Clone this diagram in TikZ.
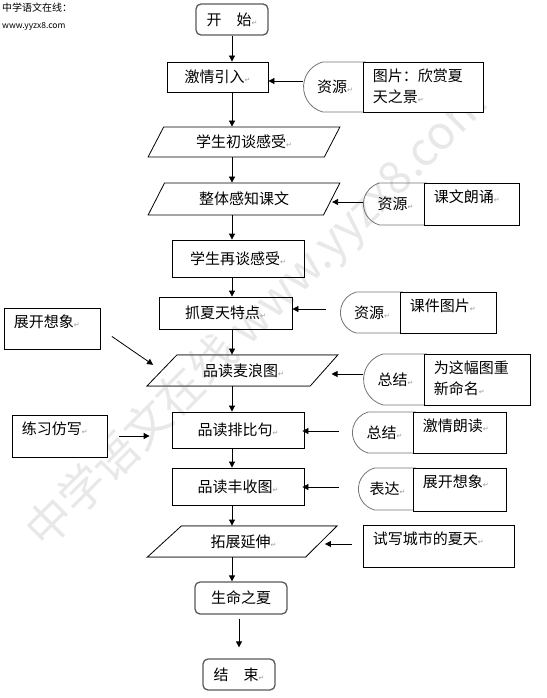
\documentclass[tikz,border=0pt]{standalone}
\usepackage{fontspec}
\setmainfont{Noto Sans CJK SC}
\newfontfamily\markfont{DejaVu Sans}
\usetikzlibrary{arrows.meta,shapes.geometric,shapes.misc}
\newcommand{\pmark}{{\markfont\fontsize{7}{7}\selectfont\color{black!40}↵}}

\begin{document}
\begin{tikzpicture}[
			x=1pt, y=-1pt,
			font=\fontsize{15}{21}\selectfont,
			arr/.style={-{Triangle[length=6pt,width=6pt]}, line width=0.8pt},
			proc/.style={draw, rectangle, line width=0.8pt, inner sep=0pt},
			term/.style={draw=black!65, line width=1.3pt, rounded corners=5pt, inner sep=0pt},
			io/.style={draw, trapezium, trapezium stretches=true, line width=0.8pt, inner sep=0pt},
			src/.style={draw=black!55, line width=0.8pt, rounded rectangle, rounded rectangle right arc=none, rounded rectangle arc length=150, inner sep=0pt},
			note/.style={draw, rectangle, fill=white, line width=0.8pt, inner sep=0pt},
			notetext/.style={anchor=north west, inner xsep=10pt, inner ysep=7pt, align=left},
			grayedge/.style={draw=black!50, line width=1.6pt},
			watermark/.style={text=black!9, font=\fontsize{46}{46}\selectfont}
			]
			
			\useasboundingbox (0,0) rectangle (546,698);
			
			% Watermark and site header
			\node[watermark, rotate=45] (wm) at (258,318) {中学语文在线 www.yyzx8.com};
			\node[anchor=north west, inner sep=0pt, font=\fontsize{10}{10}\selectfont] (site) at (2,3) {中学语文在线：};
			\node[anchor=north west, inner sep=0pt, font=\fontsize{8.5}{8.5}\selectfont] (url) at (2,22) {www.yyzx8.com};
			
			% Main column
			\coordinate (axis) at (232,0);
			\node[term, minimum width=72pt, minimum height=31pt] (start) at (232,19.5) {开　始\pmark};
			\node[proc, minimum width=101pt, minimum height=30pt] (intro) at (217.5,77) {激情引入\pmark};
			\node[io, trapezium left angle=56.3, trapezium right angle=123.7, minimum width=192pt, minimum height=30pt] (talk1) at (244,142) {学生初谈感受\pmark};
			\node[io, trapezium left angle=56.3, trapezium right angle=123.7, minimum width=192pt, minimum height=32pt] (whole) at (244,199) {整体感知课文};
			\node[proc, minimum width=132pt, minimum height=37pt] (talk2) at (238,258.5) {学生再谈感受\pmark};
			\node[proc, minimum width=133pt, minimum height=32pt] (catch) at (225.5,313) {抓夏天特点\pmark};
			\node[io, trapezium left angle=37.8, trapezium right angle=140, minimum width=191pt, minimum height=31pt] (wheat) at (243.5,370.5) {品读麦浪图\pmark};
			\node[proc, minimum width=132pt, minimum height=36pt] (para) at (238,430) {品读排比句\pmark};
			\node[proc, minimum width=132pt, minimum height=37pt] (harv) at (238,486.5) {品读丰收图\pmark};
			\node[io, trapezium left angle=37.8, trapezium right angle=140, minimum width=191pt, minimum height=31pt] (ext) at (243.5,541.5) {拓展延伸\pmark};
			\node[term, minimum width=92pt, minimum height=32pt] (life) at (241,598) {生命之夏};
			\node[term, minimum width=72pt, minimum height=31pt] (end) at (239,674.5) {结　束\pmark};
			
			% Gray top and bottom edges
			\draw[grayedge] (wheat.top left corner) -- (wheat.top right corner);
			\draw[grayedge] (wheat.bottom left corner) -- (wheat.bottom right corner);
			\draw[grayedge] (ext.top left corner) -- (ext.top right corner);
			\draw[grayedge] (ext.bottom left corner) -- (ext.bottom right corner);
			
			% Resources on the right
			\node[src, minimum width=62pt, minimum height=50pt] (r1d) at (335,87) {资源\pmark};
			\node[note, minimum width=120pt, minimum height=50pt] (r1b) at (423,87) {};
			\node[notetext] (r1t) at (r1b.north west) {图片：欣赏夏\\天之景\pmark};
			
			\node[src, minimum width=63pt, minimum height=42pt] (r2d) at (395.5,204) {资源\pmark};
			\node[note, minimum width=95pt, minimum height=42pt] (r2b) at (471.5,204) {};
			\node[notetext] (r2t) at (r2b.north west) {课文朗诵\pmark};
			
			\node[src, minimum width=62pt, minimum height=41pt] (r3d) at (372,312.5) {资源\pmark};
			\node[note, minimum width=96pt, minimum height=41pt] (r3b) at (448,312.5) {};
			\node[notetext] (r3t) at (r3b.north west) {课件图片\pmark};
			
			\node[src, minimum width=63pt, minimum height=51pt] (r4d) at (395.5,379.5) {总结\pmark};
			\node[note, minimum width=106pt, minimum height=51pt] (r4b) at (477,379.5) {};
			\node[notetext] (r4t) at (r4b.north west) {为这幅图重\\新命名\pmark};
			
			\node[src, minimum width=63pt, minimum height=41pt] (r5d) at (384.5,432.5) {总结\pmark};
			\node[note, minimum width=93pt, minimum height=41pt] (r5b) at (459.5,432.5) {};
			\node[notetext] (r5t) at (r5b.north west) {激情朗读\pmark};
			
			\node[src, minimum width=57pt, minimum height=42pt] (r6d) at (387.5,489) {表达\pmark};
			\node[note, minimum width=93pt, minimum height=43pt] (r6b) at (459.5,489.5) {};
			\node[notetext] (r6t) at (r6b.north west) {展开想象\pmark};
			
			\node[note, minimum width=151pt, minimum height=42pt] (city) at (438.5,546) {};
			\node[notetext] (cityt) at (city.north west) {试写城市的夏天\pmark};
			
			% Notes on the left
			\node[note, minimum width=96pt, minimum height=41pt] (imag) at (52,328.5) {};
			\node[notetext] (imagt) at (imag.north west) {展开想象\pmark};
			\node[note, minimum width=95pt, minimum height=42pt] (imit) at (59.5,436) {};
			\node[notetext] (imitt) at (imit.north west) {练习仿写\pmark};
			
			% Main flow
			\draw[arr] (start.south -| axis) -- (intro.north -| axis);
			\draw[arr] (intro.south -| axis) -- (talk1.north -| axis);
			\draw[arr] (talk1.south -| axis) -- (whole.north -| axis);
			\draw[arr] (whole.south -| axis) -- (talk2.north -| axis);
			\draw[arr] (talk2.south -| axis) -- (catch.north -| axis);
			\draw[arr] (catch.south -| axis) -- (wheat.north -| axis);
			\draw[arr] (wheat.south -| axis) -- (para.north -| axis);
			\draw[arr] (para.south -| axis) -- (harv.north -| axis);
			\draw[arr] (harv.south -| axis) -- (ext.north -| axis);
			\draw[arr] (ext.south -| axis) -- (life.north -| axis);
			\draw[arr, shorten <=4pt, shorten >=11pt] (life.south -| end.north) -- (end.north);
			
			% Side inputs
			\coordinate (s1) at ([yshift=6pt]r1d.west);
			\coordinate (s2) at ([yshift=2pt]r2d.west);
			\coordinate (s3) at ([shift={(-14pt,3.5pt)}]r3d.west);
			\coordinate (s4) at ([yshift=5.5pt]r4d.west);
			\coordinate (s5) at ([shift={(-13pt,1.5pt)}]r5d.west);
			\coordinate (s6) at ([shift={(-19pt,2pt)}]r6d.west);
			\coordinate (s7) at ([shift={(-11pt,2pt)}]city.west);
			\draw[arr] (s1) -- (s1 -| intro.east);
			\draw[arr] (s2) -- (s2 -| whole.east);
			\draw[arr] (s3) -- (s3 -| catch.east);
			\draw[arr, shorten >=7pt] (s4) -- (s4 -| wheat.east);
			\draw[arr, shorten >=-2pt] (s5) -- (s5 -| para.east);
			\draw[arr, shorten >=-2pt] (s6) -- (s6 -| harv.east);
			\draw[arr, shorten >=3pt] (s7) -- (s7 -| ext.east);
			
			\draw[arr, shorten <=14pt, shorten >=10pt] (imag.east) -- (wheat.west);
			\draw[arr, shorten <=12pt, shorten >=22pt] (imit.east) -- (imit.east -| para.west);
			
		\end{tikzpicture}
\end{document}
